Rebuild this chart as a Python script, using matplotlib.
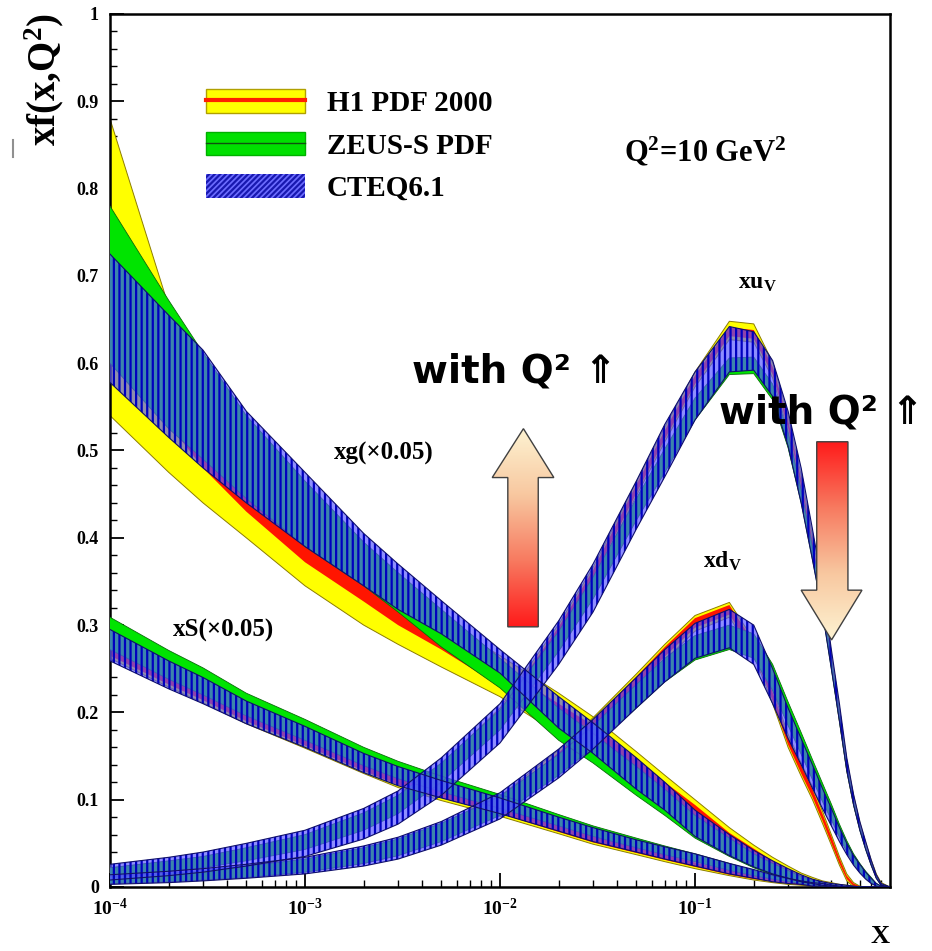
import numpy as np
import matplotlib as mpl
import matplotlib.pyplot as plt
from matplotlib.patches import Patch, Polygon
from matplotlib.lines import Line2D
from matplotlib.colors import LinearSegmentedColormap

mpl.rcParams['hatch.linewidth'] = 1.6
mpl.rcParams['mathtext.fontset'] = 'custom'
mpl.rcParams['mathtext.rm'] = 'Liberation Serif:bold'
mpl.rcParams['mathtext.bf'] = 'Liberation Serif:bold'
mpl.rcParams['mathtext.it'] = 'Liberation Serif:bold'

serif = {'family': 'Liberation Serif', 'weight': 'bold'}

# ---- data ----
X = [1e-4, 2e-4, 3e-4, 5e-4, 1e-3, 2e-3, 3e-3, 5e-3, 1e-2, 2e-2, 3e-2, 5e-2,
     0.07, 0.1, 0.15, 0.2, 0.25, 0.3, 0.35, 0.4, 0.45, 0.5, 0.55, 0.6, 0.65,
     0.7, 0.75, 0.8, 0.85, 0.9, 1.0]

# xg (x0.05)
xg_cteq_lo = [.578, .515, .48, .44, .39, .345, .318, .29, .245, .182, .153, .112, .088, .058, .036, .023, .015, .01, .006, .004, .002, .001, 0, 0, 0, 0, 0, 0, 0, 0, 0]
xg_cteq_hi = [.725, .655, .615, .545, .475, .405, .37, .328, .272, .218, .188, .148, .12, .088, .06, .042, .03, .021, .014, .009, .006, .004, .003, .002, .001, 0, 0, 0, 0, 0, 0]
xg_h1_ylo = [.54, .475, .44, .40, .345, .30, .278, .252, .218, .175, .15, .114, .091, .066, .04, .026, .017, .011, .007, .004, .002, .001, 0, 0, 0, 0, 0, 0, 0, 0, 0]
xg_h1_rlo = [.62, .53, .48, .43, .372, .327, .30, .272, .23, .185, .16, .122, .099, .072, .046, .03, .02, .013, .009, .005, .003, .002, .001, 0, 0, 0, 0, 0, 0, 0, 0]
xg_h1_rhi = [.72, .60, .54, .47, .40, .35, .322, .295, .252, .21, .185, .148, .12, .094, .062, .044, .03, .02, .013, .009, .006, .004, .002, .001, 0, 0, 0, 0, 0, 0, 0]
xg_h1_yhi = [.88, .665, .60, .52, .44, .372, .338, .305, .265, .222, .195, .155, .128, .1, .068, .048, .034, .024, .016, .011, .007, .005, .003, .002, .001, 0, 0, 0, 0, 0, 0]
xg_zeus_lo = [.60, .525, .49, .445, .39, .345, .315, .275, .228, .168, .142, .105, .082, .056, .035, .022, .014, .009, .006, .003, .002, .001, 0, 0, 0, 0, 0, 0, 0, 0, 0]
xg_zeus_hi = [.78, .672, .612, .54, .465, .395, .36, .318, .262, .205, .176, .138, .112, .082, .056, .038, .027, .019, .012, .008, .005, .003, .002, .001, 0, 0, 0, 0, 0, 0, 0]

# xS (x0.05)
xs_cteq_lo = [.259, .227, .21, .187, .16, .131, .116, .102, .084, .064, .052, .04, .032, .024, .015, .01, .006, .004, .003, .001, .001, 0, 0, 0, 0, 0, 0, 0, 0, 0, 0]
xs_cteq_hi = [.295, .259, .24, .213, .184, .153, .138, .122, .102, .08, .068, .054, .046, .038, .027, .02, .014, .01, .007, .005, .004, .002, .001, 0, 0, 0, 0, 0, 0, 0, 0]
xs_zeus_lo = [.272, .238, .22, .196, .168, .139, .124, .109, .09, .07, .058, .045, .037, .029, .019, .013, .009, .006, .004, .002, .001, 0, 0, 0, 0, 0, 0, 0, 0, 0, 0]
xs_zeus_hi = [.309, .271, .251, .222, .192, .16, .144, .127, .106, .083, .07, .056, .047, .038, .027, .019, .013, .009, .006, .004, .002, .001, 0, 0, 0, 0, 0, 0, 0, 0, 0]
xs_h1_ylo = [.262, .229, .211, .187, .159, .13, .114, .099, .081, .061, .049, .037, .029, .021, .013, .008, .005, .003, .002, .001, 0, 0, 0, 0, 0, 0, 0, 0, 0, 0, 0]
xs_h1_rlo = [.265, .232, .214, .19, .162, .133, .117, .102, .084, .063, .051, .039, .031, .023, .014, .009, .006, .004, .002, .001, 0, 0, 0, 0, 0, 0, 0, 0, 0, 0, 0]
xs_h1_rhi = [.276, .242, .224, .199, .171, .141, .125, .11, .091, .07, .058, .045, .037, .028, .019, .013, .009, .006, .004, .002, .001, 0, 0, 0, 0, 0, 0, 0, 0, 0, 0]
xs_h1_yhi = [.28, .246, .228, .203, .175, .145, .129, .113, .094, .073, .061, .048, .039, .03, .021, .014, .01, .007, .005, .003, .002, .001, 0, 0, 0, 0, 0, 0, 0, 0, 0]

# xu_V
xu_cteq_lo = [.008, .013, .017, .024, .035, .055, .072, .105, .165, .255, .315, .41, .47, .535, .59, .592, .562, .505, .44, .375, .315, .25, .19, .133, .094, .065, .043, .025, .01, .002, 0]
xu_cteq_hi = [.026, .034, .04, .05, .065, .09, .11, .148, .21, .305, .37, .465, .53, .59, .642, .636, .603, .545, .48, .41, .345, .272, .21, .148, .106, .075, .052, .031, .014, .004, 0]
xu_h1_ylo = [.014, .02, .024, .031, .045, .068, .088, .125, .19, .285, .35, .448, .51, .573, .627, .624, .583, .522, .455, .385, .32, .252, .19, .133, .094, .066, .044, .026, .011, .002, 0]
xu_h1_rlo = [.016, .022, .027, .034, .048, .071, .091, .128, .193, .288, .353, .451, .513, .576, .631, .628, .587, .526, .459, .389, .324, .256, .194, .137, .097, .068, .046, .027, .012, .003, 0]
xu_h1_rhi = [.02, .027, .032, .04, .055, .08, .1, .137, .202, .298, .363, .461, .523, .586, .641, .638, .596, .535, .467, .397, .331, .262, .2, .142, .102, .072, .049, .03, .014, .004, 0]
xu_h1_yhi = [.022, .029, .034, .043, .058, .083, .103, .14, .205, .301, .366, .464, .527, .59, .648, .645, .601, .54, .472, .402, .336, .266, .204, .145, .105, .074, .051, .031, .015, .005, 0]
xu_zeus_lo = [.012, .018, .022, .03, .043, .065, .084, .12, .18, .27, .33, .42, .475, .535, .587, .588, .558, .503, .44, .375, .315, .25, .19, .133, .094, .065, .043, .025, .01, .002, 0]
xu_zeus_hi = [.022, .03, .035, .045, .06, .085, .105, .142, .203, .293, .355, .445, .502, .56, .606, .607, .576, .52, .455, .39, .33, .262, .2, .141, .1, .07, .047, .028, .012, .003, 0]

# xd_V
xd_cteq_lo = [.003, .005, .007, .01, .015, .024, .032, .048, .078, .125, .158, .205, .235, .262, .274, .255, .21, .17, .14, .113, .09, .07, .052, .037, .025, .016, .009, .004, .001, 0, 0]
xd_cteq_hi = [.014, .018, .021, .026, .034, .047, .057, .075, .108, .158, .192, .24, .272, .302, .318, .3, .25, .205, .17, .14, .113, .09, .068, .05, .036, .026, .017, .01, .004, .001, 0]
xd_h1_ylo = [.004, .006, .008, .011, .017, .027, .036, .053, .086, .139, .176, .226, .26, .293, .309, .266, .21, .16, .127, .1, .073, .048, .025, .007, 0, 0, 0, 0, 0, 0, 0]
xd_h1_rlo = [.006, .008, .01, .014, .02, .03, .04, .057, .09, .143, .18, .23, .264, .297, .312, .269, .213, .163, .13, .103, .076, .05, .027, .009, .001, 0, 0, 0, 0, 0, 0]
xd_h1_rhi = [.01, .013, .016, .021, .028, .04, .05, .068, .101, .154, .191, .241, .275, .308, .323, .28, .223, .172, .139, .112, .084, .058, .033, .013, .004, .001, 0, 0, 0, 0, 0]
xd_h1_yhi = [.012, .015, .018, .024, .031, .043, .053, .071, .104, .157, .194, .244, .278, .311, .326, .283, .226, .175, .142, .115, .087, .06, .035, .015, .005, .001, 0, 0, 0, 0, 0]
xd_zeus_lo = [.004, .006, .008, .011, .017, .027, .036, .052, .082, .128, .16, .205, .235, .26, .272, .262, .225, .185, .152, .123, .098, .077, .057, .04, .027, .017, .01, .005, .001, 0, 0]
xd_zeus_hi = [.012, .016, .019, .024, .032, .045, .055, .073, .104, .152, .185, .232, .262, .288, .3, .29, .255, .212, .177, .146, .119, .095, .072, .053, .038, .027, .018, .011, .004, .001, 0]

x_ticks = [1e-4, 1e-3, 1e-2, 1e-1]
x_ticklabels = [r'$10^{-4}$', r'$10^{-3}$', r'$10^{-2}$', r'$10^{-1}$']
y_ticks = [0, 0.1, 0.2, 0.3, 0.4, 0.5, 0.6, 0.7, 0.8, 0.9, 1.0]
y_ticklabels = ['0', '0.1', '0.2', '0.3', '0.4', '0.5', '0.6', '0.7', '0.8', '0.9', '1']

fig = plt.figure(figsize=(9.32, 9.51), dpi=100)
ax = fig.add_axes([0.118, 0.0673, 0.837, 0.918])
ax.set_xscale('log')

# H1: yellow outer band, red inner band
h1_sets = [(xg_h1_ylo, xg_h1_rlo, xg_h1_rhi, xg_h1_yhi),
           (xs_h1_ylo, xs_h1_rlo, xs_h1_rhi, xs_h1_yhi),
           (xu_h1_ylo, xu_h1_rlo, xu_h1_rhi, xu_h1_yhi),
           (xd_h1_ylo, xd_h1_rlo, xd_h1_rhi, xd_h1_yhi)]
for ylo, rlo, rhi, yhi in h1_sets:
    ax.fill_between(X, ylo, yhi, facecolor='#ffff00', edgecolor='none', zorder=2)
    ax.fill_between(X, rlo, rhi, facecolor='#ff1500', edgecolor='none', zorder=2.1)
    ax.plot(X, ylo, color='#8c7c00', lw=0.7, zorder=2.2)
    ax.plot(X, yhi, color='#8c7c00', lw=0.7, zorder=2.2)

# ZEUS-S: green band
zeus_sets = [(xg_zeus_lo, xg_zeus_hi), (xs_zeus_lo, xs_zeus_hi),
             (xu_zeus_lo, xu_zeus_hi), (xd_zeus_lo, xd_zeus_hi)]
for lo, hi in zeus_sets:
    ax.fill_between(X, lo, hi, facecolor='#00e400', edgecolor='none', zorder=3)
    ax.plot(X, lo, color='#0a6a0a', lw=0.6, zorder=3.1)
    ax.plot(X, hi, color='#0a6a0a', lw=0.6, zorder=3.1)

# CTEQ6.1: hatched blue band
cteq_sets = [(xg_cteq_lo, xg_cteq_hi), (xs_cteq_lo, xs_cteq_hi),
             (xu_cteq_lo, xu_cteq_hi), (xd_cteq_lo, xd_cteq_hi)]
for lo, hi in cteq_sets:
    ax.fill_between(X, lo, hi, facecolor=(0.35, 0.35, 1.0, 0.68), edgecolor='#0000c0',
                    hatch='|||', linewidth=0, zorder=4)
    ax.plot(X, lo, color='#10106a', lw=0.8, zorder=4.1)
    ax.plot(X, hi, color='#10106a', lw=0.8, zorder=4.1)

# gradient arrows
cmap = LinearSegmentedColormap.from_list('arr', ['#fdf3d2', '#f8c8a0', '#f77a60', '#ff1a1a'])
up_pts = [(0.510, 0.298), (0.549, 0.298), (0.549, 0.469), (0.569, 0.469),
          (0.530, 0.525), (0.490, 0.469), (0.510, 0.469)]
down_pts = [(0.906, 0.510), (0.946, 0.510), (0.946, 0.340), (0.964, 0.340),
            (0.925, 0.283), (0.886, 0.340), (0.906, 0.340)]
for pts, grad in [(up_pts, np.linspace(1, 0, 256)[:, None]),
                  (down_pts, np.linspace(0, 1, 256)[:, None])]:
    xs = [p[0] for p in pts]
    ys = [p[1] for p in pts]
    poly = Polygon(pts, closed=True, transform=ax.transAxes, facecolor='none',
                   edgecolor='#404040', lw=1.0, zorder=6.1)
    ax.add_patch(poly)
    im = ax.imshow(grad, cmap=cmap, origin='lower', aspect='auto',
                   extent=(min(xs), max(xs), min(ys), max(ys)),
                   transform=ax.transAxes, zorder=6, interpolation='bilinear')
    im.set_clip_path(poly)

ax.set_xlim(1e-4, 1)
ax.set_ylim(0, 1)

# annotations
ax.text(0.519, 0.590, 'with Q² ⇑', transform=ax.transAxes, ha='center', va='center',
        fontsize=28, fontweight='bold', family=['DejaVu Sans'], zorder=7)
ax.text(0.912, 0.543, 'with Q² ⇑', transform=ax.transAxes, ha='center', va='center',
        fontsize=28, fontweight='bold', family=['DejaVu Sans'], zorder=7, clip_on=False)
ax.text(0.763, 0.842, r'Q$^2$=10 GeV$^2$', transform=ax.transAxes, ha='center',
        va='center', fontsize=22, **serif)
ax.text(0.351, 0.497, 'xg(×0.05)', transform=ax.transAxes, ha='center', va='center',
        fontsize=18, **serif)
ax.text(0.145, 0.294, 'xS(×0.05)', transform=ax.transAxes, ha='center', va='center',
        fontsize=18, **serif)
ax.text(0.830, 0.691, r'xu$_{V}$', transform=ax.transAxes, ha='center', va='center',
        fontsize=17, **serif)
ax.text(0.785, 0.373, r'xd$_{V}$', transform=ax.transAxes, ha='center', va='center',
        fontsize=17, **serif)

# legend
handles = [(Patch(facecolor='#ffff00', edgecolor='#b0a000', lw=1),
            Line2D([], [], color='#ff2000', lw=3)),
           (Patch(facecolor='#00e000', edgecolor='#00b000', lw=1),
            Line2D([], [], color='#105010', lw=1)),
           Patch(facecolor='#6c6cff', edgecolor='#1818b0', hatch='//////', lw=0)]
ax.legend(handles, ['H1 PDF 2000', 'ZEUS-S PDF', 'CTEQ6.1'], loc='upper left',
          bbox_to_anchor=(0.089, 0.944), frameon=False,
          prop={'family': 'Liberation Serif', 'weight': 'bold', 'size': 21},
          handlelength=3.4, handleheight=0.87, labelspacing=0.5, handletextpad=0.75)

# axes styling
ax.set_xticks(x_ticks)
ax.set_xticklabels(x_ticklabels, fontsize=14)
ax.set_yticks(y_ticks)
ax.set_yticklabels(y_ticklabels, fontsize=13, **serif)
ax.yaxis.set_minor_locator(mpl.ticker.MultipleLocator(0.02))
ax.tick_params(axis='both', which='major', direction='in', length=10, width=1.3, pad=8)
ax.tick_params(axis='both', which='minor', direction='in', length=5, width=1.0)
ax.tick_params(top=False, right=False, which='both')
for sp in ax.spines.values():
    sp.set_linewidth(1.8)

fig.text(0.047, 0.986, r'xf(x,Q$^2$)', rotation=90, ha='center', va='top',
         fontsize=28, **serif)
fig.add_artist(Line2D([13 / 932, 13 / 932], [1 - 157 / 951, 1 - 140 / 951],
                      color='#909090', lw=1.5))
fig.text(0.944, 0.015, 'X', ha='center', va='center', fontsize=19, **serif)

fig.savefig('out.png', dpi=100)
